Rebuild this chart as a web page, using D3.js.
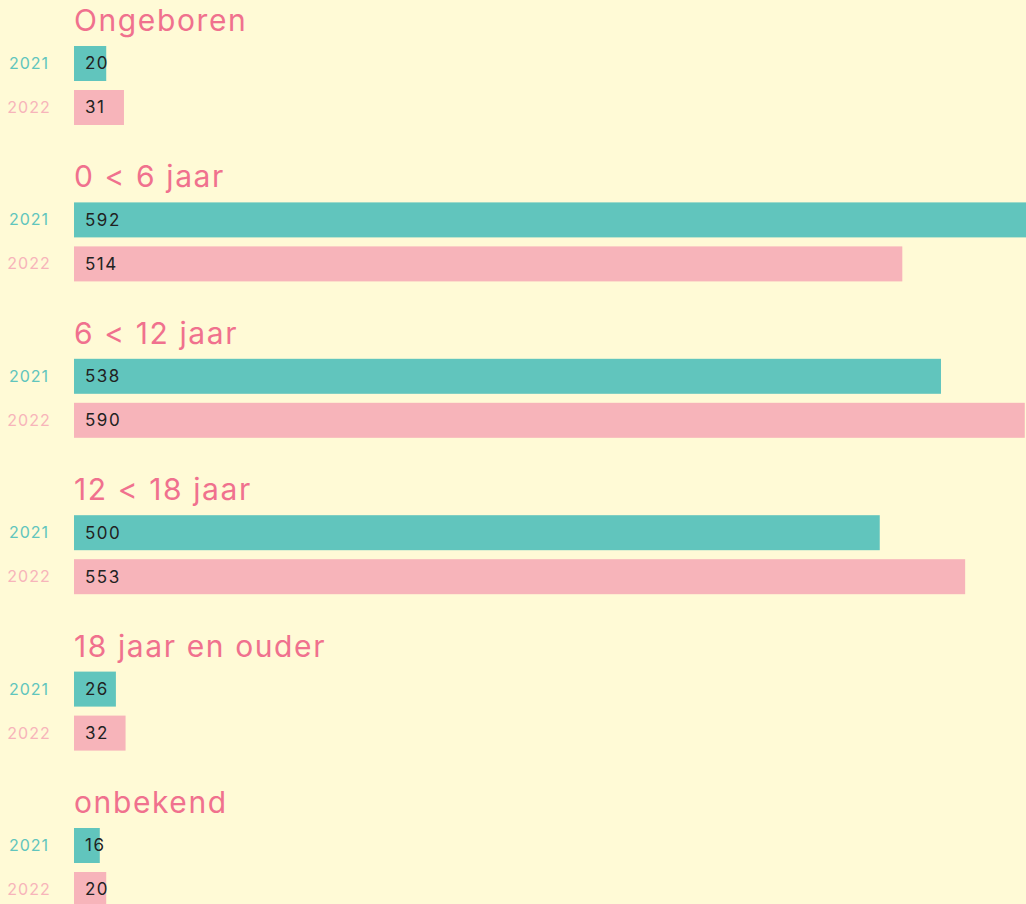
<!DOCTYPE html>
<html lang="nl">
<head>
  <meta charset="UTF-8">
  <title>Leeftijd</title>
  <style>
    html, body { margin: 0; padding: 0; background: #fffad6; }
    body  { font-family: Inter, "Open Sans", sans-serif; overflow: hidden; }
    svg   { display: block; }
    .title { fill: #f0718e; font-size: 30px; letter-spacing: 1.6px; }
    .year  { font-size: 16px; text-anchor: middle; letter-spacing: 1px; }
    .val   { fill: #222; font-size: 17px; letter-spacing: 1.5px; }
  </style>
</head>
<body>
  <svg id="chart" width="1026" height="904"></svg>

  <script src="https://d3js.org/d3.v7.min.js"></script>
  <script>
    // data
    const groups = ['Ongeboren', '0 < 6 jaar', '6 < 12 jaar', '12 < 18 jaar', '18 jaar en ouder', 'onbekend'];
    const years  = ['2021', '2022'];
    const v2021  = [20, 592, 538, 500, 26, 16];
    const v2022  = [31, 514, 590, 553, 32, 20];

    const colors = { '2021': '#61c5bd', '2022': '#f7b4ba' };

    const rows = groups.map((g, i) => ({ group: g, values: [v2021[i], v2022[i]] }));

    const svg = d3.select('#chart');

    // layout
    const groupH = 156.4, offsetY = 0;
    const x = d3.scaleLinear()
                .domain([0, d3.max(v2021.concat(v2022))])
                .range([74, 1028]);
    const gy = d3.scaleBand().domain(groups).range([offsetY, offsetY + groupH * groups.length]);
    const by = d3.scalePoint().domain(years).range([46, 90]);
    const barH = 35;

    const g = svg.selectAll('g.group')
      .data(rows)
      .enter().append('g')
      .attr('class', 'group')
      .attr('transform', d => `translate(0,${gy(d.group)})`);

    g.append('text')
      .attr('class', 'title')
      .attr('x', 74)
      .attr('y', 31)
      .text(d => d.group);

    const bar = g.selectAll('g.bar')
      .data(d => d.values.map((v, j) => ({ year: years[j], value: v })))
      .enter().append('g')
      .attr('class', 'bar');

    bar.append('rect')
      .attr('x', x(0))
      .attr('y', d => by(d.year))
      .attr('width', d => x(d.value) - x(0))
      .attr('height', barH)
      .attr('fill', d => colors[d.year]);

    bar.append('text')
      .attr('class', 'year')
      .attr('x', 29)
      .attr('y', d => by(d.year) + barH / 2)
      .attr('dy', '0.35em')
      .attr('fill', d => colors[d.year])
      .text(d => d.year);

    bar.append('text')
      .attr('class', 'val')
      .attr('x', x(0) + 11)
      .attr('y', d => by(d.year) + barH / 2)
      .attr('dy', '0.35em')
      .text(d => d.value);
  </script>
</body>
</html>
